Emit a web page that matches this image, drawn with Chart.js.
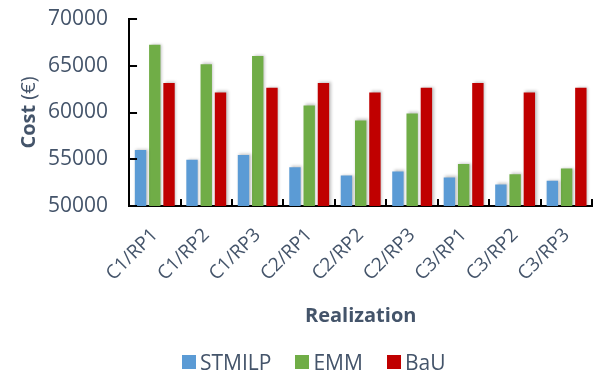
<!DOCTYPE html>
<html>
<head>
<meta charset="utf-8">
<script src="https://cdn.jsdelivr.net/npm/chart.js@4.4.1/dist/chart.umd.min.js"></script>
<style>
  html, body { margin: 0; padding: 0; background: #fff; }
  #wrap { position: relative; width: 601px; height: 372px; }
  #legend { position: absolute; top: 348px; left: 182px; display: flex; font-family: 'Open Sans', sans-serif; font-size: 21px; color: #44546A; }
  #legend span.item { display: flex; align-items: center; margin-right: 24px; }
  #legend span.box { display: inline-block; width: 14px; height: 14px; margin-right: 4px; }
</style>
</head>
<body>
<div id="wrap">
  <canvas id="costChart" width="601" height="372"></canvas>
  <div id="legend"></div>
</div>
<script>
const realizations = ['C1/RP1', 'C1/RP2', 'C1/RP3', 'C2/RP1', 'C2/RP2', 'C2/RP3', 'C3/RP1', 'C3/RP2', 'C3/RP3'];
const stmilp = [56000, 54950, 55450, 54150, 53250, 53700, 53050, 52300, 52700];
const emm = [67250, 65150, 66050, 60750, 59150, 59900, 54500, 53400, 54000];
const bau = [63150, 62150, 62650, 63150, 62150, 62650, 63150, 62150, 62650];
const seriesNames = ['STMILP', 'EMM', 'BaU'];
const seriesColors = ['#5B9BD5', '#70AD47', '#C00000'];
const yTicks = [50000, 55000, 60000, 65000, 70000];

const textColor = '#44546A';
const fontFamily = "'Open Sans', sans-serif";

// bars get a soft shadow like the office export
const barShadow = {
  id: 'barShadow',
  beforeDatasetsDraw(chart) {
    const ctx = chart.ctx;
    ctx.save();
    ctx.shadowColor = 'rgba(0,0,0,0.25)';
    ctx.shadowBlur = 3;
    ctx.shadowOffsetX = 1.5;
    ctx.shadowOffsetY = -1;
  },
  afterDatasetsDraw(chart) {
    chart.ctx.restore();
  }
};

// tick marks pointing into the plot, plus the mixed-weight y title
const axisExtras = {
  id: 'axisExtras',
  afterDraw(chart) {
    const ctx = chart.ctx;
    const x = chart.scales.x;
    const y = chart.scales.y;
    ctx.save();
    ctx.strokeStyle = '#000';
    ctx.lineWidth = 2;
    ctx.beginPath();
    const step = (x.right - x.left) / realizations.length;
    for (let i = 1; i <= realizations.length; i++) {
      const px = Math.round(x.left + i * step);
      ctx.moveTo(px, y.bottom);
      ctx.lineTo(px, y.bottom - 7);
    }
    yTicks.forEach(v => {
      const py = Math.round(y.getPixelForValue(v));
      ctx.moveTo(x.left, py);
      ctx.lineTo(x.left + 8, py);
    });
    ctx.stroke();

    ctx.translate(29, (y.top + y.bottom) / 2);
    ctx.rotate(-Math.PI / 2);
    ctx.fillStyle = textColor;
    ctx.textBaseline = 'middle';
    const boldPart = 'Cost ';
    ctx.font = 'bold 20px ' + fontFamily;
    const w1 = ctx.measureText(boldPart).width;
    ctx.font = '20px ' + fontFamily;
    const w2 = ctx.measureText('(€)').width;
    const start = -(w1 + w2) / 2;
    ctx.textAlign = 'left';
    ctx.font = 'bold 20px ' + fontFamily;
    ctx.fillText(boldPart, start, 0);
    ctx.font = '20px ' + fontFamily;
    ctx.fillText('(€)', start + w1, 0);
    ctx.restore();
  }
};

const datasets = [stmilp, emm, bau].map((vals, i) => ({
  label: seriesNames[i],
  data: vals,
  backgroundColor: seriesColors[i],
  categoryPercentage: 0.83,
  barPercentage: 0.8
}));

new Chart(document.getElementById('costChart'), {
  type: 'bar',
  data: { labels: realizations, datasets },
  options: {
    responsive: false,
    animation: false,
    layout: { padding: { left: 27, right: 5, top: 19, bottom: 46 } },
    plugins: {
      legend: { display: false },
      tooltip: { enabled: false }
    },
    scales: {
      x: {
        grid: { display: false, drawTicks: false },
        border: { display: true, color: '#000', width: 2 },
        afterFit(scale) {
          // fixed band for the slanted labels and the title
          scale.height = 120;
        },
        ticks: {
          color: textColor,
          font: { family: fontFamily, size: 19 },
          minRotation: 45,
          maxRotation: 45,
          padding: 18
        },
        title: {
          display: true,
          text: 'Realization',
          color: textColor,
          font: { family: fontFamily, size: 20, weight: 'bold', lineHeight: 1 },
          padding: 0
        }
      },
      y: {
        min: 50000,
        max: 70000,
        grid: { display: false, drawTicks: false },
        border: { display: true, color: '#000', width: 2 },
        afterBuildTicks(scale) {
          scale.ticks = yTicks.map(v => ({ value: v }));
        },
        afterFit(scale) {
          // tick padding should not push the plot down
          scale.paddingTop = 0;
          scale.paddingBottom = 0;
        },
        ticks: {
          color: textColor,
          font: { family: fontFamily, size: 21 },
          padding: 21,
          callback: v => String(v)
        }
      }
    }
  },
  plugins: [barShadow, axisExtras]
});

const legendEl = document.getElementById('legend');
seriesNames.forEach((name, i) => {
  const item = document.createElement('span');
  item.className = 'item';
  const box = document.createElement('span');
  box.className = 'box';
  box.style.background = seriesColors[i];
  item.appendChild(box);
  item.appendChild(document.createTextNode(name));
  legendEl.appendChild(item);
});
</script>
</body>
</html>
